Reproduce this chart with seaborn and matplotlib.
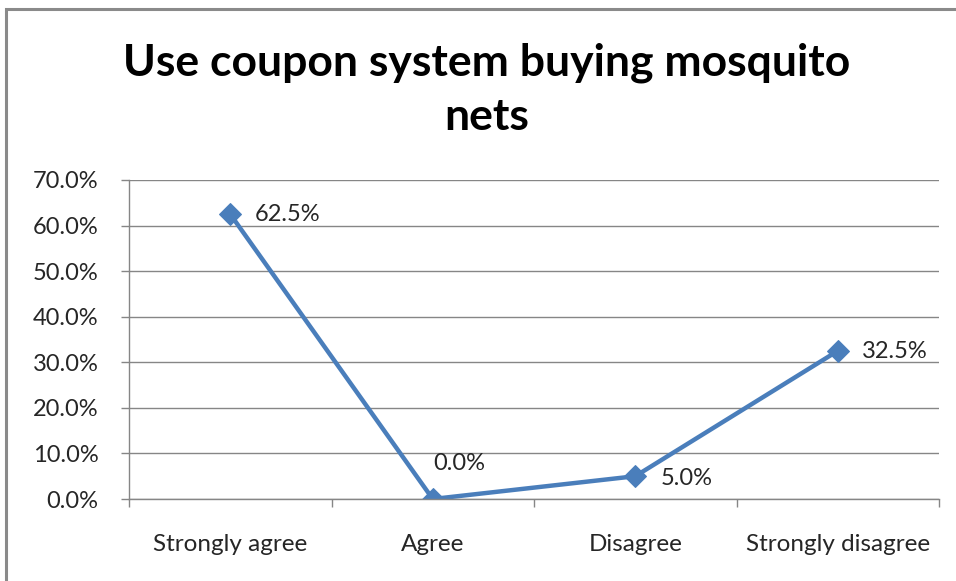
import matplotlib
matplotlib.use("Agg")
import matplotlib.pyplot as plt
import seaborn as sns
import pandas as pd
from matplotlib.patches import Rectangle
from matplotlib.ticker import FixedLocator, PercentFormatter

categories = ["Strongly agree", "Agree", "Disagree", "Strongly disagree"]
values = [0.625, 0.0, 0.05, 0.325]
value_labels = ["62.5%", "0.0%", "5.0%", "32.5%"]
yticks = [0.0, 0.1, 0.2, 0.3, 0.4, 0.5, 0.6, 0.7]
title = "Use coupon system buying mosquito\nnets"

sns.set_style("white")
plt.rcParams["font.family"] = ["Lato", "DejaVu Sans"]

df = pd.DataFrame({"category": categories, "value": values})

fig = plt.figure(figsize=(9.56, 5.81), dpi=100)
ax = fig.add_axes([129/956, 1-499/581, 810/956, 319/581])

line_color = "#4a7ebb"
sns.lineplot(data=df, x="category", y="value", ax=ax, sort=False,
             color=line_color, linewidth=3.2, marker="D", markersize=11,
             markeredgecolor=line_color, markerfacecolor=line_color)

ax.set_xlim(-0.5, len(categories) - 0.5)
ax.set_ylim(0, 0.7)
ax.set_yticks(yticks)
ax.yaxis.set_major_formatter(PercentFormatter(1.0, decimals=1))
ax.set_xlabel("")
ax.set_ylabel("")

grid_col = "#868686"
ax.grid(axis="y", color=grid_col, linewidth=1.0)
ax.grid(axis="x", visible=False)
ax.set_axisbelow(True)
for s in ["top", "right"]:
    ax.spines[s].set_visible(False)
for s in ["left", "bottom"]:
    ax.spines[s].set_color(grid_col)
    ax.spines[s].set_linewidth(1.0)

lab_col = "#262626"
ax.tick_params(axis="y", direction="out", length=6, width=1, color=grid_col,
               labelsize=17, labelcolor=lab_col, pad=16, left=True)
ax.xaxis.set_minor_locator(FixedLocator([i - 0.5 for i in range(len(categories) + 1)]))
ax.tick_params(axis="x", which="major", length=0, labelsize=17.5,
               labelcolor=lab_col, pad=25)
ax.tick_params(axis="x", which="minor", direction="out", length=6, width=1,
               color=grid_col, bottom=True)

offsets = [(24, 0), (1, 36), (25, -2), (24, -1)]
for i, (v, lab) in enumerate(zip(values, value_labels)):
    ax.annotate(lab, (i, v), xytext=offsets[i], textcoords="offset pixels",
                ha="left", va="center", fontsize=17, color=lab_col)

fig.text(487/956, 1-90/581, title, ha="center", va="center", fontsize=32,
         fontweight="bold", color="black", linespacing=1.42)

fig.patches.append(Rectangle((6/956, -0.1), 1.2, (1-9/581) + 0.1,
                             transform=fig.transFigure, fill=False,
                             edgecolor="#8a8a8a", linewidth=2.2))

fig.savefig("out.png", dpi=100)
